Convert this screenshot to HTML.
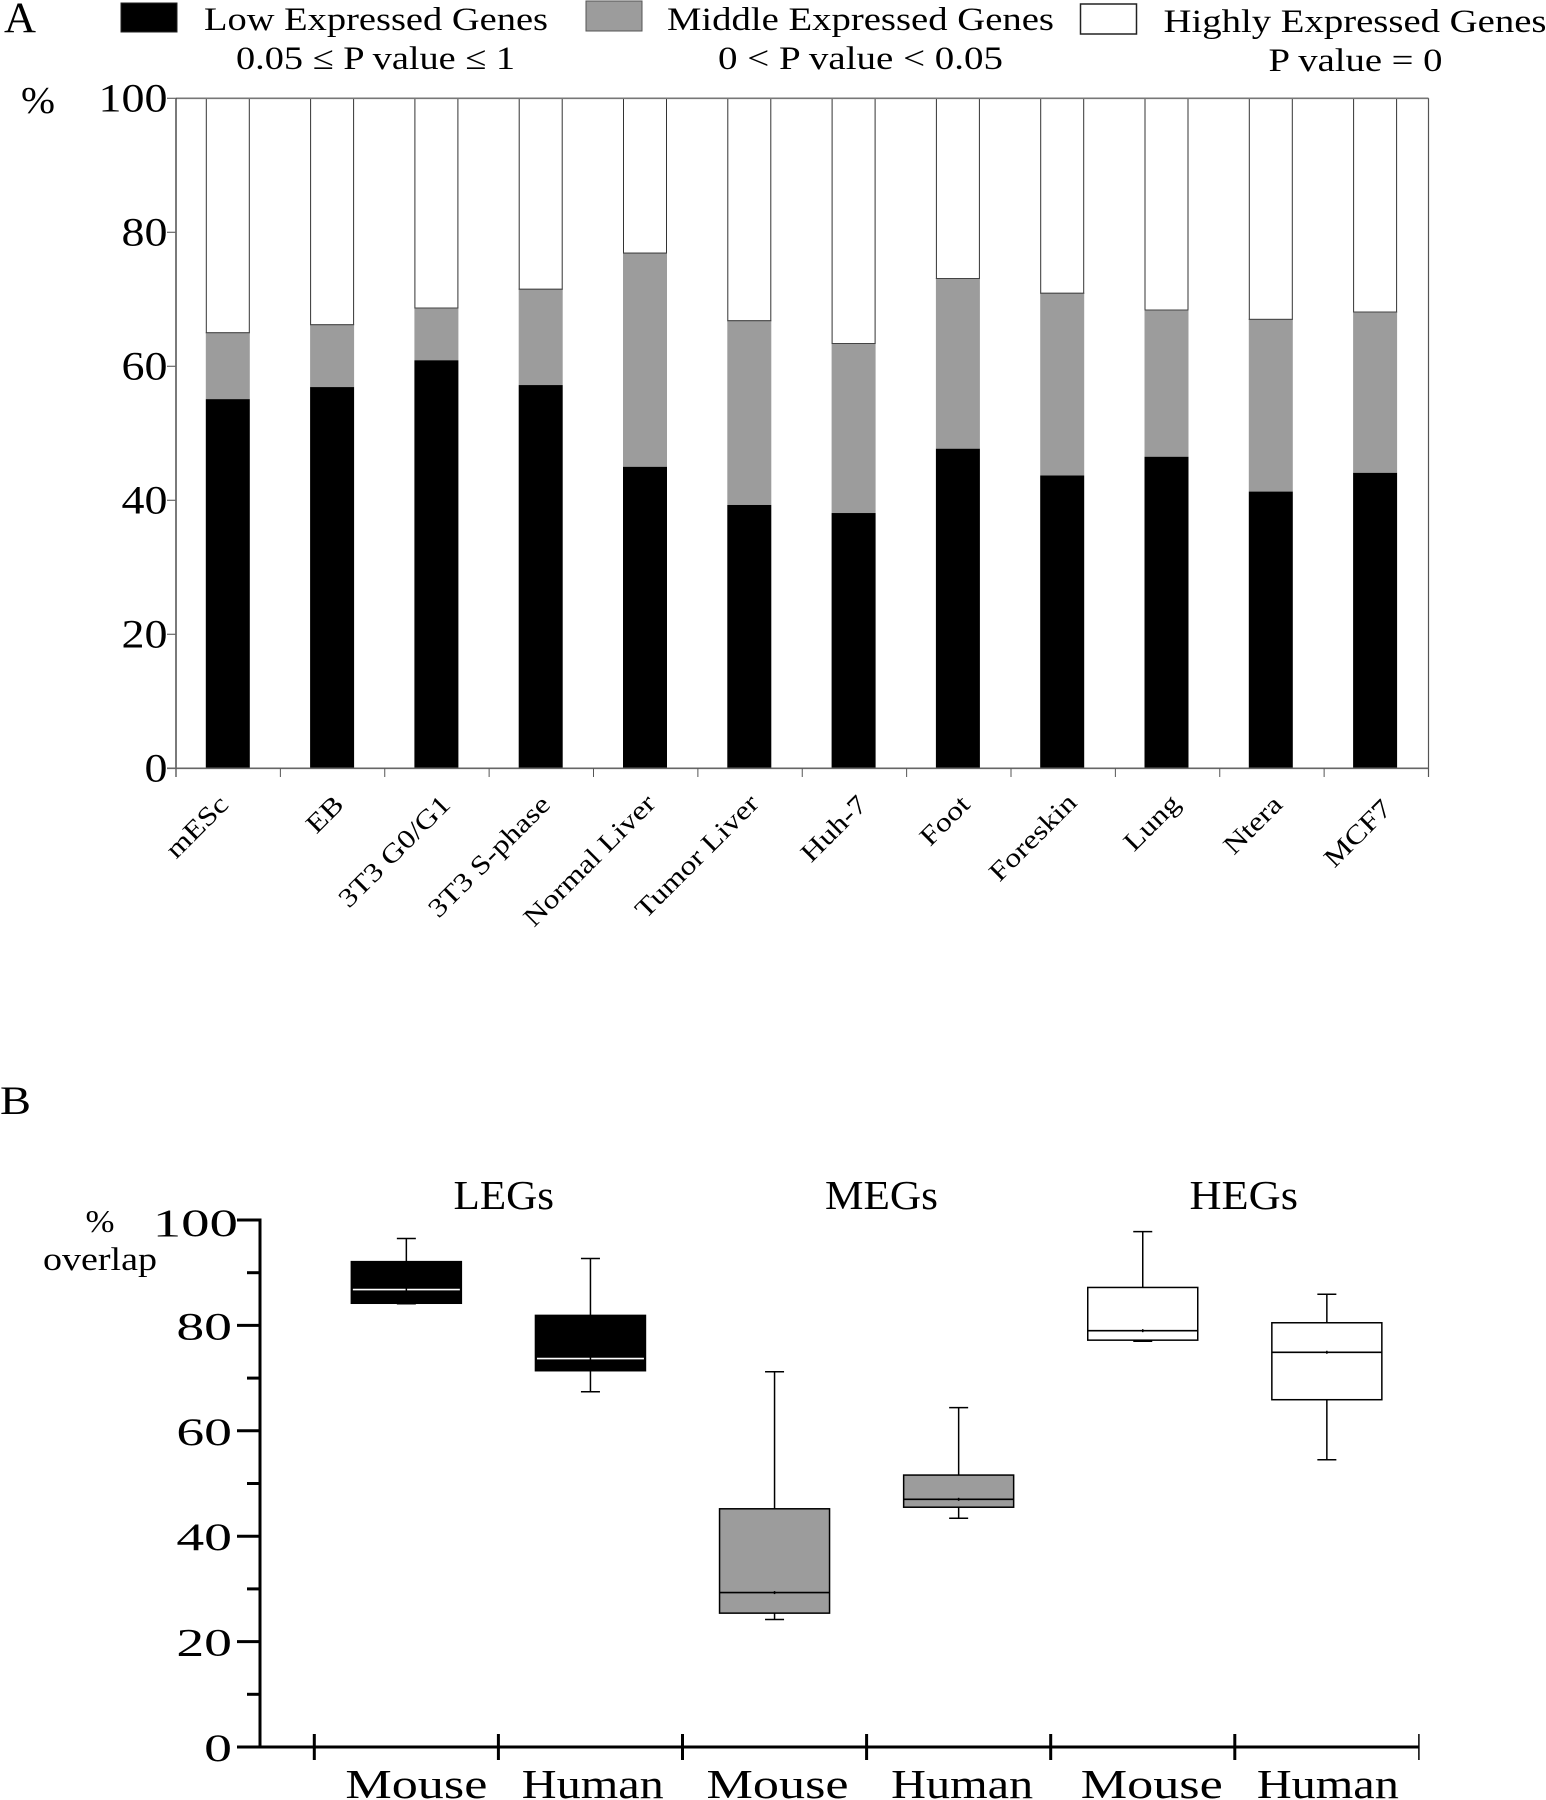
<!DOCTYPE html>
<html lang="en">
<head>
<meta charset="utf-8">
<title>Expression classes and overlap charts</title>
<style>
html,body{margin:0;padding:0;background:#fff;width:1546px;height:1800px;overflow:hidden}
svg{display:block}
text{font-family:"Liberation Serif",serif;fill:#000}
</style>
</head>
<body>
<svg id="fig" xmlns="http://www.w3.org/2000/svg" width="1546" height="1800" viewBox="0 0 1546 1800">
  <rect x="0" y="0" width="1546" height="1800" fill="#fff"/>
  <text x="4" y="32" font-size="43" textLength="32" lengthAdjust="spacingAndGlyphs">A</text>
  <g>
    <rect x="121" y="3" width="56" height="29" fill="#000" stroke="#222"/>
    <text x="204" y="30" font-size="33" textLength="344" lengthAdjust="spacingAndGlyphs">Low Expressed Genes</text>
    <text x="236" y="69" font-size="33" textLength="279" lengthAdjust="spacingAndGlyphs">0.05 ≤ P value ≤ 1</text>
    <rect x="586" y="1" width="56" height="30" fill="#9c9c9c" stroke="#555"/>
    <text x="667" y="30" font-size="33" textLength="387" lengthAdjust="spacingAndGlyphs">Middle Expressed Genes</text>
    <text x="718" y="69" font-size="33" textLength="285" lengthAdjust="spacingAndGlyphs">0 &lt; P value &lt; 0.05</text>
    <rect x="1080.5" y="4" width="56" height="30" fill="#fff" stroke="#222" stroke-width="1.5"/>
    <text x="1163.5" y="32" font-size="33" textLength="383" lengthAdjust="spacingAndGlyphs">Highly Expressed Genes</text>
    <text x="1268.5" y="71" font-size="33" textLength="174" lengthAdjust="spacingAndGlyphs">P value = 0</text>
  </g>
  <text x="21" y="113" font-size="38" textLength="34" lengthAdjust="spacingAndGlyphs">%</text>
  <g id="chartA"></g>

  <text x="0" y="1114" font-size="40" textLength="31" lengthAdjust="spacingAndGlyphs">B</text>
  <text x="85.5" y="1232" font-size="32" textLength="29" lengthAdjust="spacingAndGlyphs">%</text>
  <text x="43" y="1270" font-size="33" textLength="114" lengthAdjust="spacingAndGlyphs">overlap</text>
  <text x="453.5" y="1209" font-size="41" textLength="100.5" lengthAdjust="spacingAndGlyphs">LEGs</text>
  <text x="825" y="1209" font-size="41" textLength="113" lengthAdjust="spacingAndGlyphs">MEGs</text>
  <text x="1189.5" y="1209" font-size="41" textLength="108.5" lengthAdjust="spacingAndGlyphs">HEGs</text>
  <g id="chartB"></g>
</svg>
<script>
// ---- Chart A data ----
const categories = ["mESc","EB","3T3 G0/G1","3T3 S-phase","Normal Liver","Tumor Liver","Huh-7","Foot","Foreskin","Lung","Ntera","MCF7"];
const lowValues = [55.1,56.9,60.9,57.2,45.0,39.3,38.1,47.7,43.7,46.5,41.3,44.1];
const middleValues = [9.9,9.3,7.8,14.3,31.9,27.5,25.3,25.4,27.2,21.9,25.7,24.0];
const highValues = [35.0,33.8,31.3,28.5,23.1,33.2,36.6,26.9,29.1,31.6,33.0,31.9];
const tickLabelsA = [0,20,40,60,80,100];

// ---- Chart B data ----
const boxLabels = ["Mouse","Human","Mouse","Human","Mouse","Human"];
const boxFills = ["#000","#000","#9c9c9c","#9c9c9c","#fff","#fff"];
const whiskerHigh = [96.5,92.7,71.2,64.4,97.8,85.9];
const boxQ3 = [92.1,81.9,45.2,51.6,87.2,80.5];
const boxMedian = [86.8,73.7,29.3,47.0,79.0,74.9];
const boxQ1 = [84.2,71.4,25.4,45.5,77.2,65.9];
const whiskerLow = [84.1,67.4,24.2,43.4,77.0,54.5];
const tickLabelsB = [0,20,40,60,80,100];
const minorTicksB = [10,30,50,70,90];

const NS = "http://www.w3.org/2000/svg";
function make(parent, tag, attrs, txt){
  const el = document.createElementNS(NS, tag);
  for (const k in attrs) el.setAttribute(k, attrs[k]);
  if (txt !== undefined) el.textContent = txt;
  parent.appendChild(el);
  return el;
}

// ---- Chart A axes ----
const gA = document.getElementById("chartA");
const ax = {left:176, right:1428.5, top:98.3, bottom:768.3, step:104.3, barW:44};
const yA = v => ax.bottom - (ax.bottom - ax.top) * v / 100;
const bandCenter = i => 227.8 + ax.step * i;
const bandTick = i => ax.left + (ax.right - ax.left) * i / categories.length;
// small per-label placement nudges (layout only), keyed by label
const labelNudge = {"mESc":[2,0],"EB":[13,0],"3T3 G0/G1":[15.5,0],"3T3 S-phase":[11,0],"Normal Liver":[12,-1],"Tumor Liver":[11,-1],"Huh-7":[15,0],"Foot":[13.5,0],"Foreskin":[16,-2],"Lung":[15,-1],"Ntera":[13,0],"MCF7":[18,4]};

categories.forEach((name,i)=>{
  const cx = bandCenter(i), x = cx - ax.barW/2;
  const low = lowValues[i], mid = low + middleValues[i], top = mid + highValues[i];
  const hi = make(gA,"rect",{x:x+0.5,y:yA(top),width:ax.barW-1,height:yA(mid)-yA(top),fill:"#fff",stroke:"#333","stroke-width":1});
  
  
  const md = make(gA,"rect",{x:x,y:yA(mid),width:ax.barW,height:yA(low)-yA(mid),fill:"#9c9c9c"});
  
  
  const cap = make(gA,"line",{x1:x,x2:x+ax.barW,y1:yA(mid),y2:yA(mid),stroke:"#444","stroke-width":1});
  
  
  const lw = make(gA,"rect",{x:x,y:yA(low),width:ax.barW,height:yA(0)-yA(low),fill:"#000"});
  
  
  const n = labelNudge[name] || [12,0];
  const lab = make(gA,"text",{"font-size":26.5,"text-anchor":"end",transform:`translate(${cx+n[0]},${806+n[1]}) rotate(-45) scale(1.2,1)`},name);
  
  
});

const frameTop = make(gA,"line",{x1:ax.left,x2:ax.right,y1:ax.top,y2:ax.top,stroke:"#777","stroke-width":1.6});


const frameRight = make(gA,"line",{x1:ax.right,x2:ax.right,y1:ax.top,y2:777,stroke:"#555","stroke-width":1.2});


const axisYA = make(gA,"line",{x1:ax.left,x2:ax.left,y1:ax.top,y2:777,stroke:"#333","stroke-width":1.3});


const axisXA = make(gA,"line",{x1:167,x2:ax.right,y1:ax.bottom,y2:ax.bottom,stroke:"#666","stroke-width":1.6});


for (let i=0;i<=categories.length;i++){
  const t = make(gA,"line",{x1:bandTick(i),x2:bandTick(i),y1:ax.bottom,y2:777,stroke:"#555","stroke-width":1});
  
  
}
tickLabelsA.forEach(v=>{
  const t = make(gA,"line",{x1:167,x2:ax.left,y1:yA(v),y2:yA(v),stroke:"#666","stroke-width":1.2});
  
  
  const l = make(gA,"text",{"font-size":40,"text-anchor":"end",transform:`translate(167.5,${yA(v)+13}) scale(1.15,1)`},String(v));
  
  
});

// ---- Chart B axes ----
const gB = document.getElementById("chartB");
const bx = {left:260, top:1220, bottom:1747, right:1418.5, first:314.3, step:184.1, boxW:110, capW:19};
const yB = v => bx.bottom - (bx.bottom - bx.top) * v / 100;
const slotTick = i => bx.first + bx.step * i;
const slotCenter = i => slotTick(i) + bx.step / 2;
// layout only: centre shift of each bottom label
const boxLabelShift = [10,2.3,3,3.5,9,1];

boxLabels.forEach((name,i)=>{
  const cx = slotCenter(i), x = cx - bx.boxW/2, fill = boxFills[i];
  const dark = fill === "#000";
  const up = make(gB,"line",{x1:cx,x2:cx,y1:yB(whiskerHigh[i]),y2:yB(boxQ3[i]),stroke:"#000","stroke-width":1.5});
  
  
  const upCap = make(gB,"line",{x1:cx-bx.capW/2,x2:cx+bx.capW/2,y1:yB(whiskerHigh[i]),y2:yB(whiskerHigh[i]),stroke:"#000","stroke-width":1.5});
  
  
  const dn = make(gB,"line",{x1:cx,x2:cx,y1:yB(boxQ1[i]),y2:yB(whiskerLow[i]),stroke:"#000","stroke-width":1.5});
  
  
  const dnCap = make(gB,"line",{x1:cx-bx.capW/2,x2:cx+bx.capW/2,y1:yB(whiskerLow[i]),y2:yB(whiskerLow[i]),stroke:"#000","stroke-width":1.5});
  
  
  const box = make(gB,"rect",{x:x,y:yB(boxQ3[i]),width:bx.boxW,height:yB(boxQ1[i])-yB(boxQ3[i]),fill:fill,stroke:"#000","stroke-width":1.5});
  
  
  const med = make(gB,"line",{x1:x+(dark?1.5:0),x2:x+bx.boxW-(dark?1.5:0),y1:yB(boxMedian[i]),y2:yB(boxMedian[i]),stroke:dark?"#fff":"#000","stroke-width":1.6});
  
  
  const dot = make(gB,"line",{x1:cx,x2:cx,y1:yB(boxMedian[i])-1.5,y2:yB(boxMedian[i])+1.5,stroke:"#000","stroke-width":1.5});
  
  
  const lab = make(gB,"text",{x:cx+boxLabelShift[i]-71,y:1798,"font-size":41,textLength:142,lengthAdjust:"spacingAndGlyphs"},name);
  
  
});

const axisYB = make(gB,"line",{x1:bx.left,x2:bx.left,y1:bx.top-1.5,y2:bx.bottom+1.5,stroke:"#000","stroke-width":3});


const axisXB = make(gB,"line",{x1:237,x2:bx.right,y1:bx.bottom,y2:bx.bottom,stroke:"#000","stroke-width":3});


for (let i=0;i<=boxLabels.length;i++){
  const isLast = i === boxLabels.length;
  const t = make(gB,"line",{x1:slotTick(i),x2:slotTick(i),y1:bx.bottom-13,y2:bx.bottom+13,stroke:"#000","stroke-width":isLast?1.5:3});
  
  
}
tickLabelsB.forEach(v=>{
  const t = make(gB,"line",{x1:237,x2:bx.left,y1:yB(v),y2:yB(v),stroke:"#000","stroke-width":3});
  
  
  const l = make(gB,"text",{"font-size":39.5,"text-anchor":"end",transform:`translate(${v===100?238:232},${yB(v)+(v===100?16:14)}) scale(${v===100?1.44:1.41},1)`},String(v));
  
  
});
minorTicksB.forEach(v=>{
  const t = make(gB,"line",{x1:247,x2:bx.left,y1:yB(v),y2:yB(v),stroke:"#000","stroke-width":3});
  
  
});
</script>
</body>
</html>
